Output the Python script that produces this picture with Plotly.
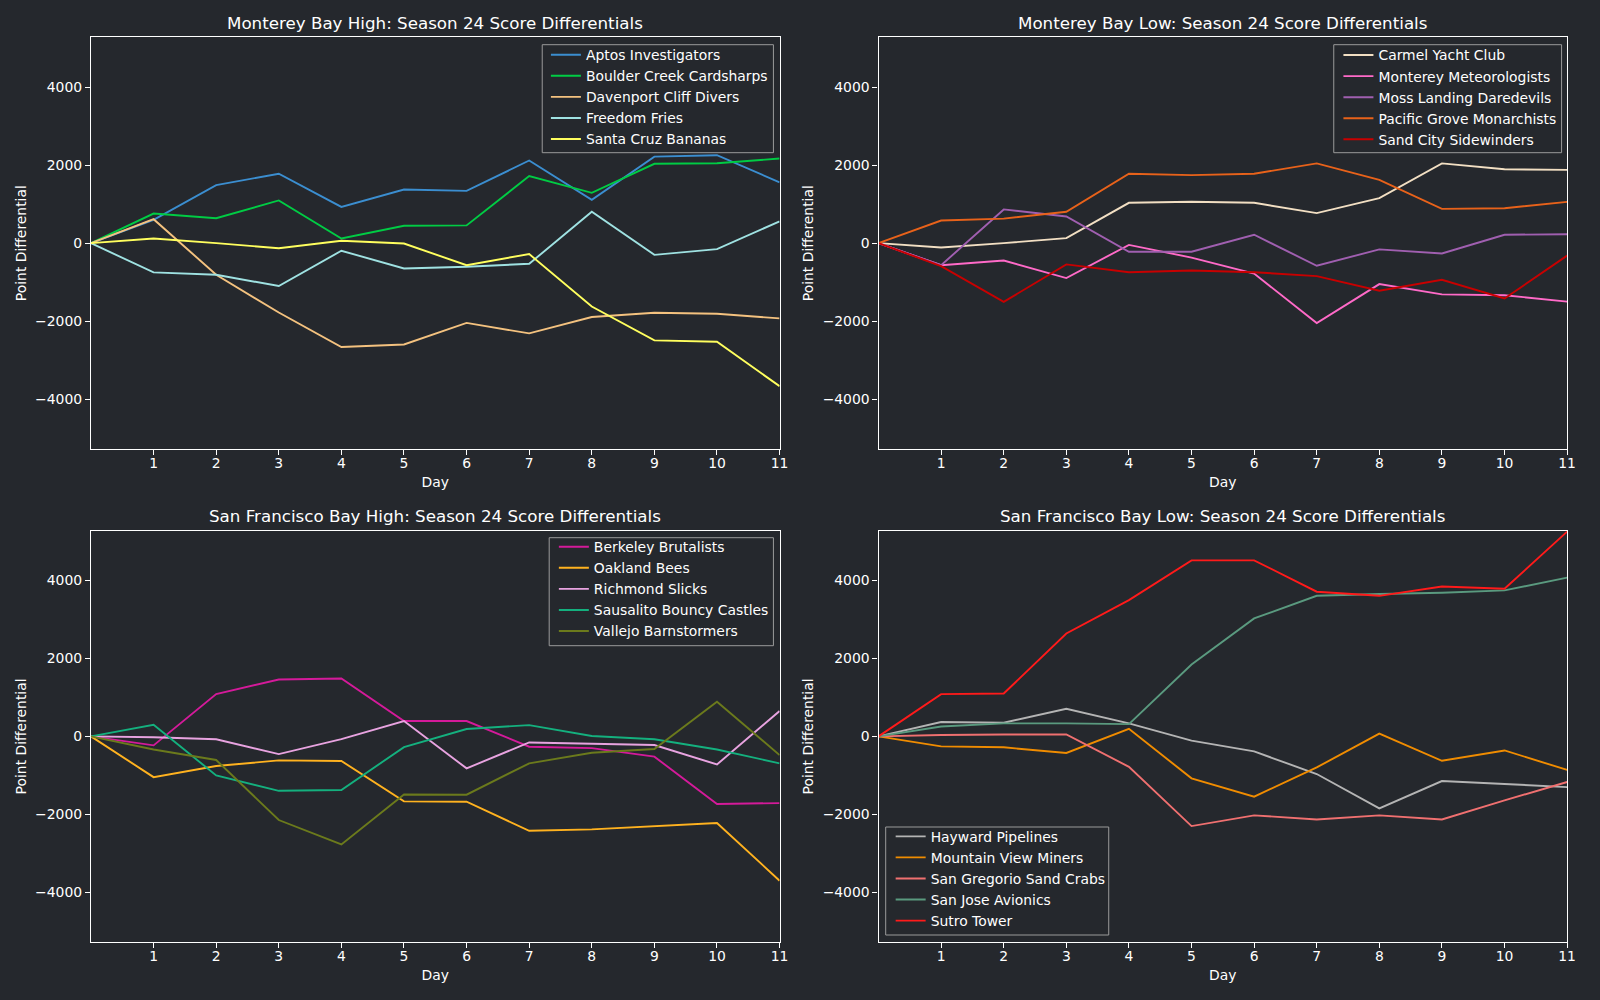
import plotly.graph_objects as go

days = list(range(12))
x_ticks = list(range(1, 12))
y_ticks = [-4000, -2000, 0, 2000, 4000]

# Monterey Bay High
mbh_teams = ["Aptos Investigators", "Boulder Creek Cardsharps", "Davenport Cliff Divers",
             "Freedom Fries", "Santa Cruz Bananas"]
aptos = [0, 600, 1490, 1780, 930, 1375, 1340, 2120, 1110, 2220, 2255, 1560]
boulder = [0, 760, 640, 1095, 120, 445, 455, 1720, 1290, 2035, 2050, 2170]
davenport = [0, 615, -810, -1780, -2665, -2600, -2045, -2315, -1895, -1785, -1810, -1930]
freedom = [0, -750, -810, -1100, -195, -650, -605, -530, 805, -300, -155, 560]
santacruz = [0, 120, 0, -130, 60, -10, -565, -280, -1625, -2495, -2530, -3670]
mbh_values = [aptos, boulder, davenport, freedom, santacruz]
mbh_colors = ["#3b8ed0", "#00cc44", "#f4c27f", "#9fe2e2", "#ffff5e"]

# Monterey Bay Low
mbl_teams = ["Carmel Yacht Club", "Monterey Meteorologists", "Moss Landing Daredevils",
             "Pacific Grove Monarchists", "Sand City Sidewinders"]
carmel = [0, -110, 0, 130, 1035, 1060, 1035, 770, 1155, 2045, 1895, 1880]
monterey = [0, -565, -445, -895, -45, -370, -780, -2050, -1050, -1315, -1335, -1500]
moss = [0, -565, 865, 685, -220, -220, 215, -580, -160, -265, 215, 230]
pacific = [0, 580, 630, 805, 1780, 1745, 1780, 2045, 1625, 880, 895, 1060]
sandcity = [0, -590, -1505, -545, -745, -700, -745, -845, -1220, -940, -1420, -320]
mbl_values = [carmel, monterey, moss, pacific, sandcity]
mbl_colors = ["#f2dfc3", "#ff6ac8", "#a05fb0", "#e8621a", "#c80000"]

# San Francisco Bay High
sfh_teams = ["Berkeley Brutalists", "Oakland Bees", "Richmond Slicks",
             "Sausalito Bouncy Castles", "Vallejo Barnstormers"]
berkeley = [0, -230, 1085, 1460, 1485, 395, 395, -265, -300, -520, -1735, -1710]
oakland = [0, -1045, -760, -615, -630, -1665, -1675, -2420, -2385, -2300, -2220, -3700]
richmond = [0, -20, -75, -455, -70, 395, -820, -155, -190, -220, -720, 650]
sausalito = [0, 300, -1000, -1395, -1375, -275, 190, 290, 10, -75, -335, -690]
vallejo = [0, -335, -605, -2145, -2770, -1490, -1495, -690, -420, -325, 890, -480]
sfh_values = [berkeley, oakland, richmond, sausalito, vallejo]
sfh_colors = ["#d41a9a", "#ffb21f", "#e8a3e0", "#14b07e", "#6b7a1c"]

# San Francisco Bay Low
sfl_teams = ["Hayward Pipelines", "Mountain View Miners", "San Gregorio Sand Crabs",
             "San Jose Avionics", "Sutro Tower"]
hayward = [0, 370, 350, 710, 335, -110, -385, -965, -1845, -1145, -1220, -1300]
mountain = [0, -255, -280, -425, 195, -1075, -1545, -795, 70, -625, -360, -860]
gregorio = [0, 35, 50, 50, -780, -2300, -2025, -2130, -2025, -2130, -1640, -1170]
sanjose = [0, 255, 335, 335, 315, 1845, 3025, 3605, 3650, 3685, 3745, 4070]
sutro = [0, 1085, 1100, 2640, 3495, 4515, 4515, 3710, 3605, 3845, 3785, 5250]
sfl_values = [hayward, mountain, gregorio, sanjose, sutro]
sfl_colors = ["#b4b4b4", "#f08c00", "#f07070", "#5a9a7f", "#ff1a1a"]

titles = ["Monterey Bay High: Season 24 Score Differentials",
          "Monterey Bay Low: Season 24 Score Differentials",
          "San Francisco Bay High: Season 24 Score Differentials",
          "San Francisco Bay Low: Season 24 Score Differentials"]

BG = "#25282d"
FONT = "DejaVu Sans"
W, H = 1600, 1000
SMALL = 13.9
BIG = 16.7

# panel pixel boxes (left, right, top, bottom)
boxes = [(91.5, 784, 37.3, 449), (883.5, 1576, 37.3, 449),
         (91.5, 784, 530.5, 942.3), (883.5, 1576, 530.5, 942.3)]
# legend frames (left, right, top, bottom) and legend anchor (x_left, y_top)
legend_frames = [(545.3, 777.8, 44.7, 152.7), (1341.3, 1570.4, 44.7, 152.7),
                 (552.3, 777.8, 537.7, 645.7), (890.7, 1115, 827, 935)]
legend_anchor = [(549, 39.2), (1346, 39.5), (557, 531.2), (895.7, 820.8)]

groups = [(mbh_teams, mbh_values, mbh_colors),
          (mbl_teams, mbl_values, mbl_colors),
          (sfh_teams, sfh_values, sfh_colors),
          (sfl_teams, sfl_values, sfl_colors)]


def rect_path(l, r, t, b):
    return f"M {l},{t} L {r},{t} L {r},{b} L {l},{b} Z"


fig = go.Figure()
layout = {}
annotations = []
shapes = []
for i, ((teams, values, colors), box) in enumerate(zip(groups, boxes)):
    n = "" if i == 0 else str(i + 1)
    leg = "legend" if i == 0 else f"legend{i + 1}"
    for team, vals, col in zip(teams, values, colors):
        fig.add_trace(go.Scatter(x=days, y=vals, mode="lines", name=team,
                                 line=dict(color=col, width=1.9),
                                 xaxis="x" + n, yaxis="y" + n, legend=leg))
    l, r, t, b = box
    axis_common = dict(showline=True, linecolor="white", linewidth=1.2, mirror=True,
                       ticks="outside", tickcolor="white", ticklen=5, tickwidth=1,
                       showgrid=False, zeroline=False,
                       tickfont=dict(family=FONT, size=SMALL, color="white"))
    layout["xaxis" + n] = dict(domain=[l / W, r / W], anchor="y" + n, range=[0, 11],
                               tickvals=x_ticks, ticklabelstandoff=-4,
                               title=dict(text="Day", standoff=7,
                                          font=dict(family=FONT, size=SMALL, color="white")),
                               **axis_common)
    layout["yaxis" + n] = dict(domain=[1 - b / H, 1 - t / H], anchor="x" + n,
                               range=[-5280, 5280], tickvals=y_ticks,
                               title=dict(text="Point Differential", standoff=5,
                                          font=dict(family=FONT, size=SMALL, color="white")),
                               **axis_common)
    annotations.append(dict(text=titles[i], x=(l + r) / 2 / W, y=1 - (t - 14.4) / H,
                            xref="paper", yref="paper", xanchor="center", yanchor="middle",
                            showarrow=False, font=dict(family=FONT, size=BIG, color="white")))
    fl, fr, ft, fb = legend_frames[i]
    shapes.append(dict(type="path", xref="paper", yref="paper", layer="above",
                       path=rect_path(fl / W, fr / W, 1 - ft / H, 1 - fb / H),
                       fillcolor="rgba(37,40,45,0.8)", line=dict(color="#9a9a9a", width=1)))
    ax, ay = legend_anchor[i]
    layout[leg] = dict(x=ax / W, y=1 - ay / H, xanchor="left", yanchor="top",
                       bgcolor="rgba(0,0,0,0)", borderwidth=0,
                       font=dict(family=FONT, size=SMALL, color="white"), itemwidth=30,
                       xref="paper", yref="paper")

fig.update_layout(width=W, height=H, paper_bgcolor=BG, plot_bgcolor=BG,
                  margin=dict(l=0, r=0, t=0, b=0), showlegend=True,
                  annotations=annotations, shapes=shapes,
                  font=dict(family=FONT, color="white"),
                  **layout)

fig.write_html("out.html", config={"displayModeBar": False},
               post_script="document.body.style.margin='0';document.body.style.background='#25282d';")
